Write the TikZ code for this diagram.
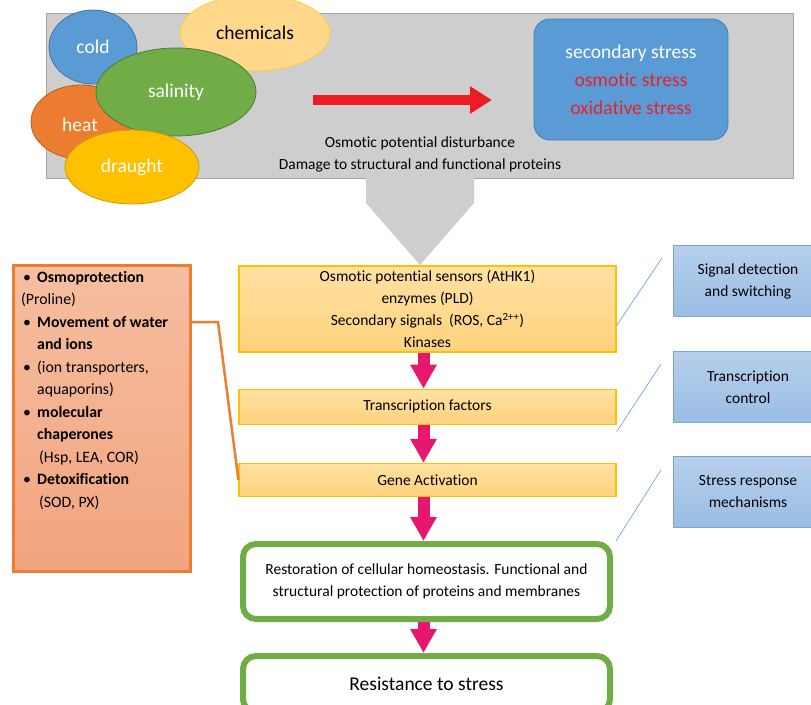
\documentclass[tikz,border=0pt]{standalone}
\usepackage{fontspec}
\setmainfont{Carlito}[Ligatures=NoCommon]
\usetikzlibrary{positioning,arrows.meta,shapes.geometric}

\definecolor{panelfill}{HTML}{CECECE}
\definecolor{panelline}{HTML}{A6A6A6}
\definecolor{coldblue}{HTML}{5B9BD5}
\definecolor{chemfill}{HTML}{FFD88C}
\definecolor{salgreen}{HTML}{70AD47}
\definecolor{heatorange}{HTML}{ED7D31}
\definecolor{drgold}{HTML}{FFC000}
\definecolor{arrred}{HTML}{ED1C24}
\definecolor{stressred}{HTML}{E8202A}
\definecolor{flowtop}{HTML}{FFE1A2}
\definecolor{flowbot}{HTML}{FFD27D}
\definecolor{flowline}{HTML}{FFC000}
\definecolor{pinkarr}{HTML}{E6176F}
\definecolor{resgreen}{HTML}{70AD47}
\definecolor{sidetop}{HTML}{B6CFEC}
\definecolor{sidebot}{HTML}{9ABDE3}
\definecolor{sideline}{HTML}{7AA5D8}
\definecolor{salmontop}{HTML}{F6BEA0}
\definecolor{salmonbot}{HTML}{F2A47F}

\newcommand{\bul}{\makebox[14pt][l]{\textbullet}}

\begin{document}
\begin{tikzpicture}[x=1pt, y=-1pt,
  font=\fontsize{15.5}{22}\selectfont,
  blob/.style={ellipse, draw, line width=0.8pt, inner sep=0pt, text=white,
               font=\fontsize{19.5}{22}\selectfont},
  flowbox/.style={draw=flowline, line width=1.2pt, top color=flowtop, bottom color=flowbot,
                  minimum width=377pt, inner sep=0pt, align=center},
  resbox/.style={draw=resgreen, line width=6pt, rounded corners=13pt, fill=white,
                 minimum width=367pt, inner sep=0pt, align=center},
  sidebox/.style={draw=sideline, line width=0.8pt, top color=sidetop, bottom color=sidebot,
                  minimum width=150pt, minimum height=71pt, inner sep=0pt, align=center},
  fatarrow/.style={draw=pinkarr, line width=12pt, -{Triangle[width=25pt,length=24pt]}},
  callout/.style={draw=coldblue, line width=0.6pt},
  node distance=36pt
]
  \useasboundingbox (0,0) rectangle (811,704);

  % stress panel
  \node[draw=panelline, fill=panelfill, line width=0.8pt, minimum width=747pt,
        minimum height=165pt, inner sep=0pt] (panel) at (419.5,95.5) {};
  \fill[panelfill] (366,177) -- (474,177) -- (474,203) -- (420,265) -- (366,203) -- cycle;

  \node[blob, fill=coldblue, draw=coldblue!75!black, minimum width=88pt, minimum height=74pt] (cold) at (93,47) {cold};
  \node[blob, fill=chemfill, draw=drgold!80, text=black, minimum width=150pt, minimum height=76pt] (chem) at (255,33) {chemicals};
  \node[blob, fill=heatorange, draw=heatorange!75!black, minimum width=100pt, minimum height=74pt] (heat) at (81,122) {};
  \node[text=white, font=\fontsize{19.5}{22}\selectfont] (heattxt) at (80,125) {heat};
  \node[blob, fill=salgreen, draw=salgreen!70!black, minimum width=160pt, minimum height=88pt] (salt) at (176,92) {salinity};
  \node[blob, fill=drgold, draw=drgold!80!black, minimum width=134pt, minimum height=74pt] (drought) at (132,167) {draught};

  \coordinate (ra) at (313,100);
  \coordinate (rb) at (492,100);
  \draw[arrred, line width=10pt, -{Triangle[width=26pt,length=22pt]}] (ra) -- (rb);

  \node[draw=coldblue!80!black, fill=coldblue, line width=0.8pt, rounded corners=16pt,
        minimum width=194pt, minimum height=121pt, align=center,
        font=\fontsize{19.5}{28}\selectfont] (second) at (631,79.5)
       {\textcolor{white}{secondary stress}\\\textcolor{stressred}{osmotic stress}\\\textcolor{stressred}{oxidative stress}};

  \node[align=center] (damage) at (420,154)
       {Osmotic potential disturbance\\Damage to structural and functional proteins};

  % signalling chain
  \node[flowbox, minimum height=86pt] (sense) at (427.5,309)
       {Osmotic potential sensors (AtHK1)\\enzymes (PLD)\\Secondary signals~ (ROS, Ca\textsuperscript{2++})\\Kinases};
  \node[flowbox, minimum height=35pt, below=36pt of sense] (tf) {Transcription factors};
  \node[flowbox, minimum height=33pt, below=38pt of tf] (gene) {Gene Activation};
  \node[resbox, minimum height=75pt, below=44pt of gene, xshift=-1pt] (restore)
       {Restoration of cellular homeostasis. Functional and\\structural protection of proteins and membranes};
  \node[resbox, minimum height=56pt, below=31pt of restore, font=\fontsize{19.5}{22}\selectfont] (resist)
       {Resistance to stress};

  \draw[fatarrow] ([xshift=-4pt]sense.south) -- ([xshift=-4pt]tf.north);
  \draw[fatarrow] ([xshift=-4pt]tf.south) -- ([xshift=-4pt]gene.north);
  \draw[fatarrow] ([xshift=-4pt]gene.south) -- ([xshift=-3pt]restore.north);
  \draw[fatarrow] ([xshift=-3pt]restore.south) -- ([xshift=-3pt]resist.north);

  % side labels
  \node[sidebox] (detect) at (748,281) {Signal detection\\and switching};
  \node[sidebox] (control) at (748,387) {Transcription\\control};
  \node[sidebox] (mech) at (748,492) {Stress response\\mechanisms};

  \coordinate (c1) at (662,258);
  \coordinate (c2) at (661,364);
  \coordinate (c3) at (661,470);
  \draw[callout] ([yshift=27pt]sense.south east) -- (c1);
  \draw[callout] ([yshift=-7pt]tf.south east) -- (c2);
  \draw[callout] ([xshift=3pt]restore.north east) -- (c3);

  % protection mechanisms
  \node[draw=heatorange, line width=3pt, top color=salmontop, bottom color=salmonbot,
        minimum width=177pt, minimum height=306pt, inner sep=0pt] (protect) at (102,418.5) {};
  \node[anchor=north west, align=left, inner sep=0pt, font=\fontsize{15.8}{22.5}\selectfont] (plist) at (21,271)
       {\hspace*{2pt}\bul\textbf{Osmoprotection}\\
        (Proline)\\
        \hspace*{2pt}\bul\textbf{Movement of water}\\
        \hspace*{16pt}\textbf{and ions}\\
        \hspace*{2pt}\bul(ion transporters,\\
        \hspace*{16pt}aquaporins)\\
        \hspace*{2pt}\bul\textbf{molecular}\\
        \hspace*{16pt}\textbf{chaperones}\\
        \hspace*{18pt}(Hsp, LEA, COR)\\
        \hspace*{2pt}\bul\textbf{Detoxification}\\
        \hspace*{18pt}(SOD, PX)};
  \draw[heatorange, line width=2.5pt] ([yshift=-58pt]protect.north east) -- ++(26,0) -- (gene.west);
\end{tikzpicture}
\end{document}
